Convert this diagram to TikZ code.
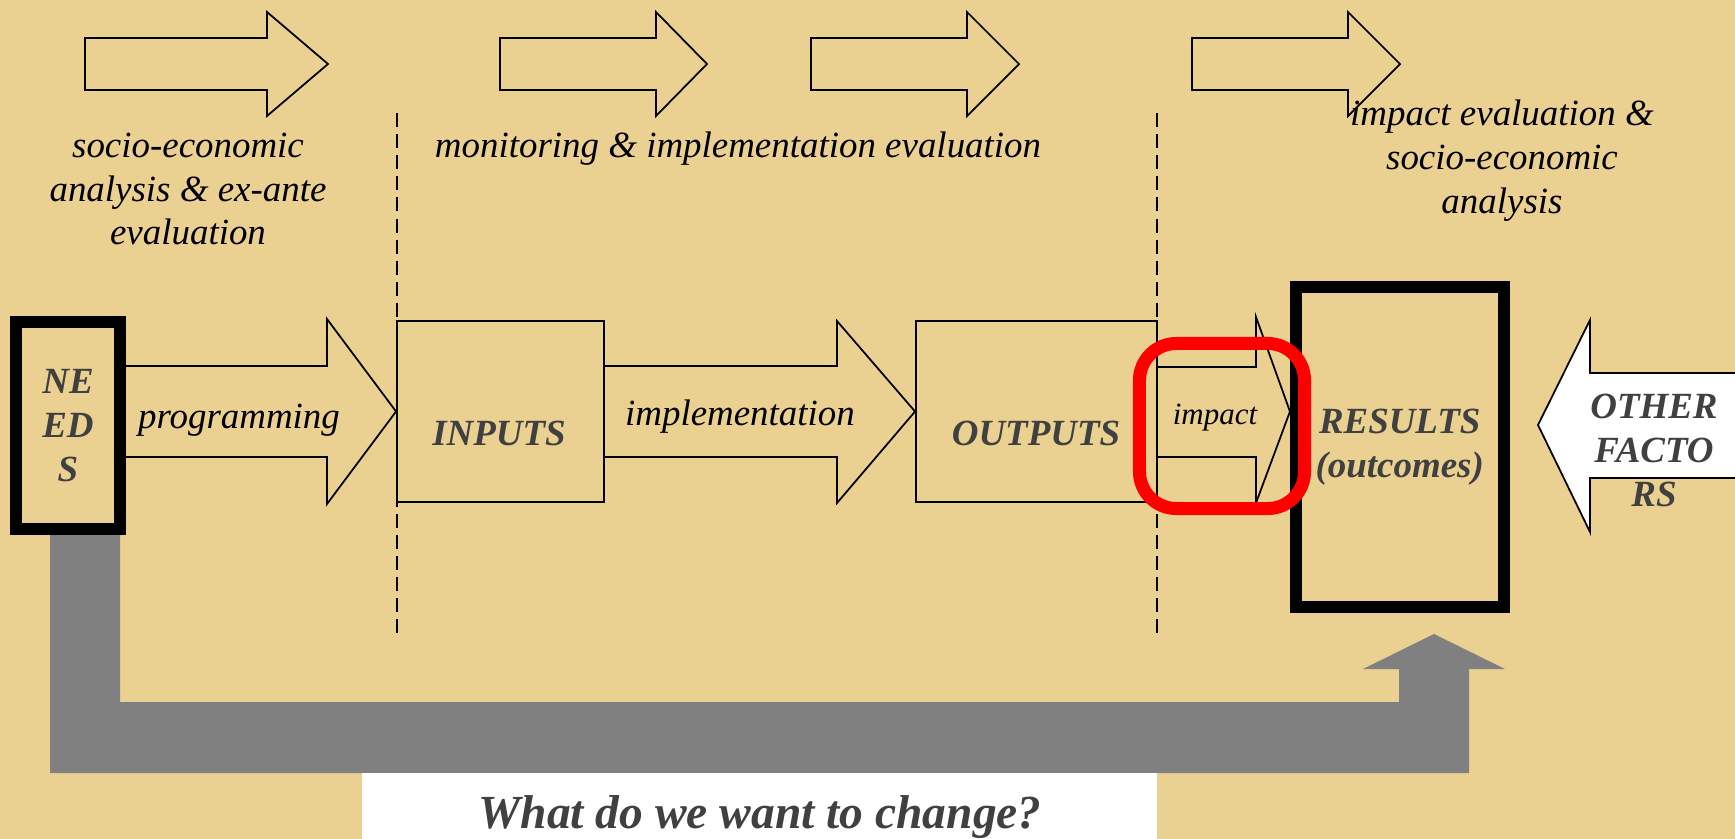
\documentclass[tikz,border=0pt]{standalone}
\usepackage{fontspec}
\setmainfont{Liberation Serif}
\usetikzlibrary{positioning}

\definecolor{parchment}{RGB}{234,208,145}
\definecolor{labelgray}{RGB}{64,64,64}
\definecolor{feedgray}{RGB}{128,128,128}

\begin{document}
\begin{tikzpicture}[x=0.01cm, y=-0.01cm,
  stage/.style={draw, line width=0.5pt, inner sep=0pt},
  keybox/.style={draw, line width=3.4pt, inner sep=0pt},
  flow/.style={draw, line width=0.5pt, line join=miter},
  bigtxt/.style={font=\fontsize{10.5}{12.5}\selectfont\bfseries\itshape, text=labelgray, align=center},
  smalltxt/.style={font=\fontsize{10.5}{12.5}\selectfont\itshape, align=center}]

\useasboundingbox (0,0) rectangle (1735,839);
\fill[parchment] (0,0) rectangle (1735,839);

% phase arrows on top
\foreach \a/\h/\b in {85/267/328, 500/656/707, 811/967/1019, 1192/1348/1400}
  \draw[flow] (\a,38) -- (\h,38) -- (\h,12) -- (\b,64) -- (\h,116) -- (\h,90) -- (\a,90) -- cycle;

\foreach \x in {397, 1157}
  \draw[dash pattern=on 4pt off 2pt] (\x,113) -- (\x,633);

\node[smalltxt] (exante) at (188,189) {socio-economic\\analysis \& ex-ante\\evaluation};
\node[smalltxt, anchor=base] (monitoring) at (738,157) {monitoring \& implementation evaluation};
\node[smalltxt] (impacteval) at (1502,161) {impact evaluation \&\\socio-economic\\analysis};

% chain
\node[keybox, minimum width=1.04cm, minimum height=2.07cm, bigtxt] (needs) at (68,425.5) {NE\\ED\\S};
\node[stage, minimum width=2.07cm, minimum height=1.81cm] (inputs) at (500.5,411.5) {};
\node[bigtxt, anchor=base] (inputslabel) at (499,445) {INPUTS};
\node[stage, minimum width=2.41cm, minimum height=1.81cm] (outputs) at (1036.5,411.5) {};
\node[bigtxt, anchor=base] (outputslabel) at (1036,445) {OUTPUTS};
\node[keybox, minimum width=2.075cm, minimum height=3.2cm, bigtxt] (results) at (1399.75,447) {RESULTS\\(outcomes)};

\draw[flow] (needs.east |- 0,366) -- (327,366) -- (327,319) -- (inputs.west) -- (327,504) -- (327,457) -- (needs.east |- 0,457);
\draw[flow] (inputs.east |- 0,366) -- (837,366) -- (837,321) -- (outputs.west) -- (837,503) -- (837,457) -- (inputs.east |- 0,457);
\draw[flow] (outputs.east |- 0,367) -- (1256,367) -- (1256,317) -- (results.west |- outputs.east) -- (1256,503) -- (1256,457) -- (outputs.east |- 0,457);

\node[smalltxt, anchor=base] (programming) at (239,428) {programming};
\node[smalltxt, anchor=base] (implementation) at (740,425) {implementation};
\node[font=\fontsize{8.8}{10.5}\selectfont\itshape, anchor=base] (impact) at (1215,424) {impact};

% other factors
\draw[flow, fill=white] (1745,373) -- (1590,373) -- (1590,320) -- (1538,425) -- (1590,532) -- (1590,478) -- (1745,478);
\node[bigtxt] (others) at (1654,450) {OTHER\\FACTO\\RS};

% feedback
\fill[feedgray] (needs.south -| 50,0) -- (50,773) -- (1469,773) -- (1469,669) -- (1505,669) -- (1434,634)
  -- (1363,669) -- (1399,669) -- (1399,702) -- (120,702) -- (needs.south -| 120,0) -- cycle;
\fill[white] (362,773) rectangle (1157,850);
\node[font=\fontsize{13.5}{16}\selectfont\bfseries\itshape, text=labelgray, anchor=base] (question) at (760,828) {What do we want to change?};

\node[draw=red, line width=3.7pt, rounded corners=10.5pt, minimum width=1.65cm, minimum height=1.65cm] (highlight) at (1222,426) {};

\end{tikzpicture}
\end{document}
